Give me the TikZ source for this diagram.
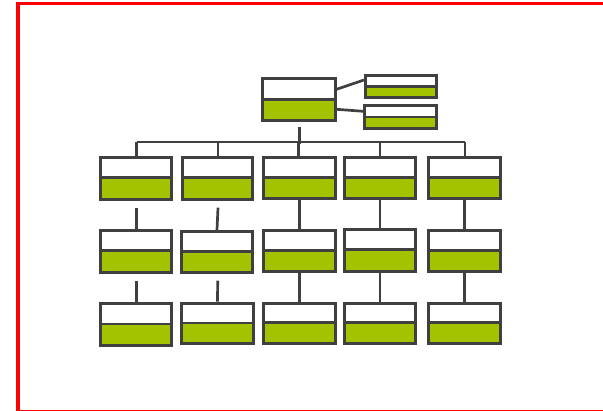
\documentclass[tikz,border=0pt]{standalone}
\usetikzlibrary{calc}
\definecolor{gr}{RGB}{64,64,64}
\definecolor{leaf}{RGB}{163,195,0}
\definecolor{frame}{RGB}{255,0,0}
\begin{document}
\begin{tikzpicture}[x=1pt,y=-1pt,
  box/.style={draw=gr, line width=3pt, fill=white, inner sep=0pt,
    minimum width=71.5pt, minimum height=41.5pt,
    path picture={
      \fill[leaf] (path picture bounding box.south west) rectangle
        ($(path picture bounding box.north east)!0.49!(path picture bounding box.south east)$);
      \draw[gr, line width=2.8pt]
        ($(path picture bounding box.north west)!0.49!(path picture bounding box.south west)$) --
        ($(path picture bounding box.north east)!0.49!(path picture bounding box.south east)$);
    }},
  smallbox/.style={box, minimum height=22.5pt},
  link/.style={draw=gr, line width=2.7pt},
  bus/.style={draw=gr, line width=2.5pt},
  stub/.style={draw=gr, line width=3.3pt}]
\useasboundingbox (0,0) rectangle (603,411);
\draw[frame, line width=3.5pt] (17.75,3.5) rectangle (620,411.5);

% top level
\node[box, minimum width=72.5pt, minimum height=42pt] (main) at (298.8,99.8) {};
\node[smallbox, minimum height=22pt] (r1) at (401.2,86.5) {};
\node[smallbox, minimum height=23pt] (r2) at (400.3,117.3) {};
\draw[link] ($(main.east)+(0,-10.5)$) -- ($(r1.west)+(0,-6.5)$);
\draw[link] ($(main.east)+(0,9.5)$) -- ($(r2.west)+(0,-6)$);

% row 1
\node[box, minimum height=42pt] (a1) at (136,178.2) {};
\node[box, minimum height=42pt, minimum width=70.5pt] (a2) at (217.5,178.2) {};
\node[box, minimum height=41.5pt] (a3) at (299.3,178) {};
\node[box, minimum height=41.5pt] (a4) at (380,178) {};
\node[box, minimum height=41.5pt] (a5) at (464.7,178) {};

% row 2
\node[box] (b1) at (136,251.3) {};
\node[box, minimum height=40.7pt] (b2) at (217,251.8) {};
\node[box, minimum height=40.7pt] (b3) at (299.3,250.8) {};
\node[box, minimum height=41.7pt] (b4) at (380,250.3) {};
\node[box, minimum height=40.7pt] (b5) at (464.7,250.8) {};

% row 3
\node[box] (c1) at (136,324.5) {};
\node[box, minimum height=40.6pt] (c2) at (217.5,323.5) {};
\node[box, minimum height=40pt] (c3) at (299.3,323.2) {};
\node[box, minimum height=40pt] (c4) at (380,323.2) {};
\node[box, minimum height=40.3pt] (c5) at (464.7,323.3) {};

% bus
\coordinate (st) at ($(main.south)+(0.5,5)$);
\coordinate (busmid) at ($(main.south)+(0.5,22)$);
\coordinate (busL) at (136.7,142);
\coordinate (busR) at (465,142);
\draw[bus] (busL) -- (busR);
\draw[stub] (st) -- (busmid);
\draw[bus] (a1.north -| busL) -- (busL);
\draw[bus] (a2.north -| 218,0) -- (218,142);
\draw[bus] (a3.north -| 298.5,0) -- (298.5,142);
\draw[bus] (a4.north) -- (a4.north |- busL);
\draw[bus] (a5.north -| busR) -- (busR);

% row1 -> row2
\coordinate (g1) at ($(a1.south)+(0.7,7)$);
\coordinate (g2) at ($(a2.south)+(0.5,7)$);
\draw[link] (g1) -- (b1.north -| g1);
\draw[link] (g2) -- (b2.north);
\draw[link] (a3.south) -- (b3.north);
\draw[link] (a4.south) -- (b4.north);
\draw[link] (a5.south) -- (b5.north);

% row2 -> row3
\coordinate (h1) at ($(b1.south)+(0.7,7)$);
\coordinate (h2) at ($(b2.south)+(0.7,7)$);
\draw[link] (h1) -- (c1.north -| h1);
\draw[link] (h2) -- (c2.north);
\draw[link] (b3.south) -- (c3.north);
\draw[link] (b4.south) -- (c4.north);
\draw[link] (b5.south) -- (c5.north);
\end{tikzpicture}
\end{document}
